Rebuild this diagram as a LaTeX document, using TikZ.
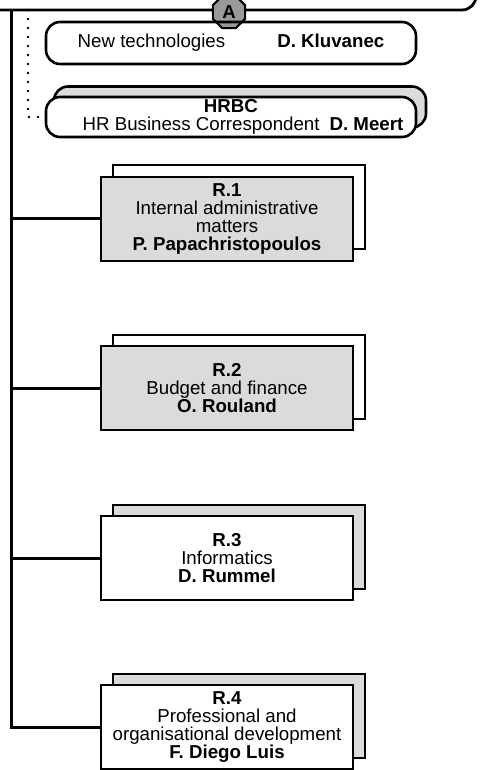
\documentclass[tikz,border=0pt]{standalone}
\usepackage{fontspec}
\setmainfont{Liberation Sans}
\usetikzlibrary{shapes.geometric}

\begin{document}
\begin{tikzpicture}[x=0.5pt,y=-0.5pt,
  txt/.style={font=\fontsize{9.35}{9}\selectfont},
  plate/.style={draw,line width=1.3pt,minimum width=126pt,minimum height=42pt,inner sep=0pt,align=center,txt},
  pill/.style={draw,line width=1.3pt,rounded corners=7pt,minimum width=185pt,minimum height=21pt,inner sep=0pt,align=center,txt},
  shade/.style={fill=black!14},
  wire/.style={line width=1.5pt},
  dotline/.style={line width=1.4pt,line cap=round,dash pattern=on 0pt off 4.5pt}]
\useasboundingbox (0,0) rectangle (490,770);
\draw[line width=1.4pt,rounded corners=7pt] (-20,-60) rectangle (476,10);
\node[regular polygon,regular polygon sides=8,draw,line width=1pt,fill=black!40,minimum size=17.5pt,inner sep=0pt,font=\bfseries\fontsize{9.35}{9}\selectfont] (a) at (229,12) {A};

\node[pill] (newtech) at (231,43) {New technologies\hspace{26pt}\textbf{D. Kluvanec}};
\node[pill,shade,minimum width=186pt,minimum height=20.5pt] (hrbcback) at (240,107) {};
\node[pill,fill=white,minimum height=20pt] (hrbc) at (231,117) {\textbf{HRBC}\\\hspace*{12pt}HR Business Correspondent\hspace{5pt}\textbf{D. Meert}};

\node[plate,fill=white] (r1back) at (239,207) {};
\node[plate,shade] (r1) at (227,219) {\textbf{R.1}\\Internal administrative\\matters\\\textbf{P. Papachristopoulos}};
\node[plate,fill=white] (r2back) at (239,377) {};
\node[plate,shade] (r2) at (227,388) {\textbf{R.2}\\Budget and finance\\\textbf{O. Rouland}};
\node[plate,shade] (r3back) at (239,547) {};
\node[plate,fill=white] (r3) at (227,558) {\textbf{R.3}\\Informatics\\\textbf{D. Rummel}};
\node[plate,shade] (r4back) at (239,716) {};
\node[plate,fill=white] (r4) at (227,727) {\textbf{R.4}\\Professional and\\organisational development\\\textbf{F. Diego Luis}};

% spine and branches
\coordinate (top) at (11,10);
\draw[wire] (top) |- (r4.west);
\foreach \n in {r1,r2,r3}{
\draw[wire] (top |- \n.west) -- (\n.west);
}
\coordinate (dottop) at (28,10);
\draw[dotline] (dottop) |- ([xshift=-3pt]hrbc.west);
\end{tikzpicture}
\end{document}
